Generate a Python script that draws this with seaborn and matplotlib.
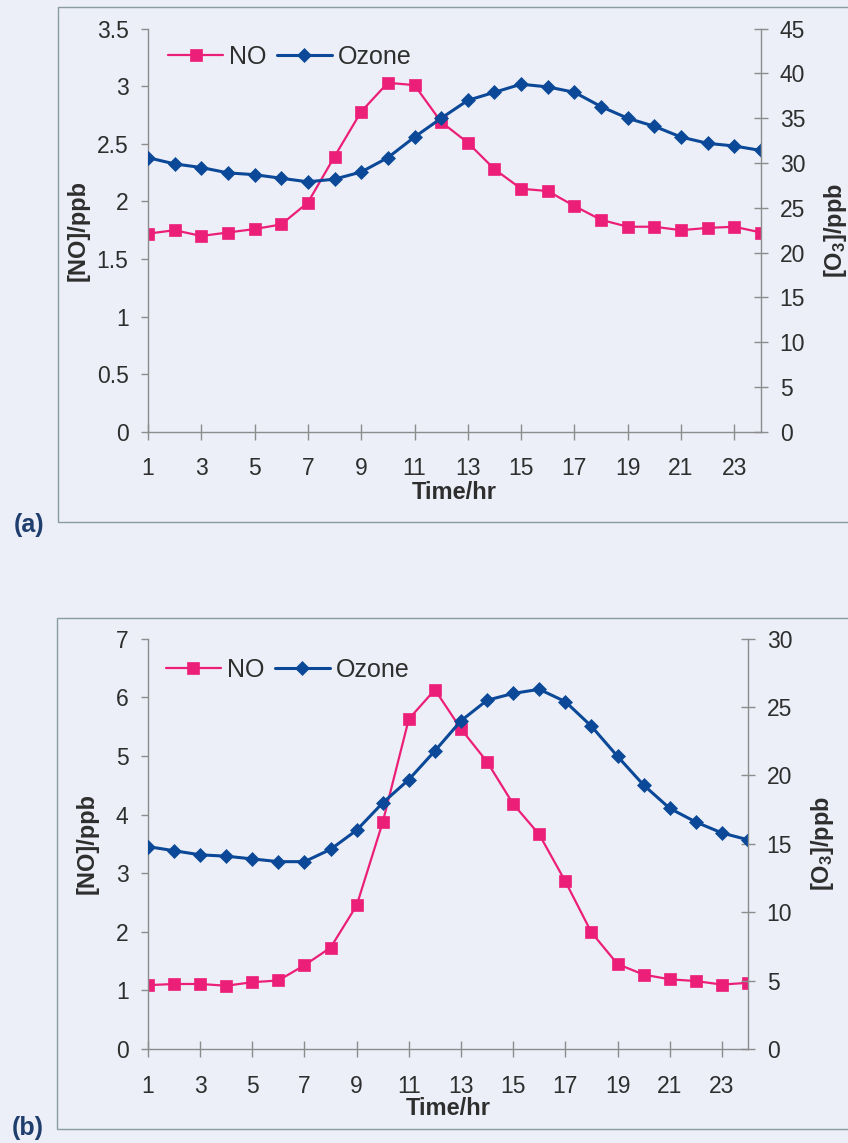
import matplotlib
matplotlib.use('Agg')
import matplotlib.pyplot as plt
from matplotlib.patches import Rectangle
from matplotlib.ticker import FuncFormatter
import numpy as np
import pandas as pd
import seaborn as sns

HOURS = list(range(1, 25))

# panel (a)
no_a = [1.72, 1.75, 1.70, 1.73, 1.76, 1.80, 1.99, 2.39, 2.78, 3.03, 3.01, 2.69,
        2.51, 2.28, 2.11, 2.09, 1.96, 1.84, 1.78, 1.78, 1.75, 1.77, 1.78, 1.73]
ozone_a = [30.6, 29.9, 29.5, 28.9, 28.7, 28.3, 27.9, 28.2, 29.0, 30.6, 32.9, 35.0,
           37.0, 37.9, 38.8, 38.5, 37.9, 36.3, 35.0, 34.1, 32.9, 32.2, 31.9, 31.4]

# panel (b)
no_b = [1.09, 1.11, 1.11, 1.08, 1.14, 1.17, 1.43, 1.73, 2.45, 3.87, 5.63, 6.13,
        5.46, 4.90, 4.18, 3.66, 2.86, 1.99, 1.45, 1.27, 1.19, 1.16, 1.10, 1.13]
ozone_b = [14.8, 14.5, 14.2, 14.1, 13.9, 13.7, 13.7, 14.6, 16.0, 18.0, 19.7, 21.8,
           24.0, 25.5, 26.0, 26.3, 25.4, 23.6, 21.4, 19.3, 17.6, 16.6, 15.8, 15.3]

XTICKS = list(range(1, 24, 2))

BG = '#ECEFF7'
PINK = '#EC1F78'
BLUE = '#0B4897'
SPINE = '#8C8C8C'
TEXT = '#2E2E2E'

sns.set_style('ticks')
plt.rcParams['font.family'] = ['Liberation Sans', 'DejaVu Sans']
plt.rcParams['mathtext.default'] = 'regular'
plt.rcParams['text.color'] = TEXT
plt.rcParams['axes.labelcolor'] = TEXT
plt.rcParams['xtick.color'] = SPINE
plt.rcParams['ytick.color'] = SPINE
plt.rcParams['xtick.labelcolor'] = TEXT
plt.rcParams['ytick.labelcolor'] = TEXT


def fmt(v, pos):
    return f'{v:g}'


def draw_panel(fig, rect, no, ozone, no_top, no_step, oz_top, oz_step,
               leg_xy, left_lab_x, right_lab_x, xlab_y):
    ax = fig.add_axes(rect)
    ax.set_facecolor(BG)
    ax2 = ax.twinx()

    df = pd.DataFrame({'hour': HOURS, 'NO': no, 'Ozone': ozone})
    sns.lineplot(data=df, x='hour', y='NO', ax=ax, color=PINK, lw=1.6,
                 marker='s', markersize=9, markeredgecolor=PINK,
                 markeredgewidth=0.5, label='NO', legend=False)
    sns.lineplot(data=df, x='hour', y='Ozone', ax=ax2, color=BLUE, lw=2.2,
                 marker='D', markersize=7, markeredgecolor=BLUE,
                 markeredgewidth=0.5, label='Ozone', legend=False)

    ax.set_xlim(1, 24)
    ax.set_ylim(0, no_top)
    ax2.set_ylim(0, oz_top)
    ax.set_xticks(XTICKS)
    ax.set_yticks(np.arange(0, no_top + no_step / 2, no_step))
    ax2.set_yticks(np.arange(0, oz_top + oz_step / 2, oz_step))
    ax.yaxis.set_major_formatter(FuncFormatter(fmt))
    ax2.yaxis.set_major_formatter(FuncFormatter(fmt))

    for a in (ax, ax2):
        a.spines['top'].set_visible(False)
        for s in a.spines.values():
            s.set_color(SPINE)
            s.set_linewidth(1.0)
    ax.spines['right'].set_visible(False)
    ax2.spines['left'].set_visible(False)
    ax2.spines['bottom'].set_visible(False)

    ax.tick_params(axis='x', direction='inout', length=11, width=1,
                   pad=13, labelsize=16.5)
    ax.tick_params(axis='y', direction='out', length=5, width=1,
                   pad=9, labelsize=16.5)
    ax2.tick_params(axis='y', direction='inout', length=10, width=1,
                    pad=8.5, labelsize=16.5)

    ax.set_xlabel('Time/hr', fontsize=17, fontweight='bold')
    ax.set_ylabel('[NO]/ppb', fontsize=17, fontweight='bold')
    ax2.set_ylabel('[O$_3$]/ppb', fontsize=17, fontweight='bold')
    ax.xaxis.set_label_coords(0.5, xlab_y)
    ax.yaxis.set_label_coords(left_lab_x, 0.5)
    ax2.yaxis.set_label_coords(right_lab_x, 0.5)

    h1, l1 = ax.get_legend_handles_labels()
    h2, l2 = ax2.get_legend_handles_labels()
    ax2.legend(h1 + h2, l1 + l2, loc='center left', bbox_to_anchor=leg_xy,
               frameon=False, ncol=2, fontsize=18, handlelength=2.2,
               handletextpad=0.25, columnspacing=0.4, borderpad=0,
               borderaxespad=0)
    return ax, ax2


fig = plt.figure(figsize=(8.48, 11.43), dpi=100, facecolor=BG)

# outer frames around each panel
fig.add_artist(Rectangle((0.0684, 0.5433), 1.0, 0.4506, transform=fig.transFigure,
                         fill=False, edgecolor='#8A9BA3', lw=1.0))
fig.add_artist(Rectangle((0.0672, 0.0123), 1.0, 0.4470, transform=fig.transFigure,
                         fill=False, edgecolor='#8A9BA3', lw=1.0))

draw_panel(fig, [0.1745, 0.6223, 0.7229, 0.3526], no_a, ozone_a,
           3.5, 0.5, 45, 5, (0.033, 0.93), -0.095, 1.10, -0.123)
draw_panel(fig, [0.1745, 0.0822, 0.7075, 0.3590], no_b, ozone_b,
           7, 1, 30, 5, (0.03, 0.924), -0.082, 1.102, -0.118)

fig.text(0.034, 0.5407, '(a)', fontsize=18, fontweight='bold', color='#1F3E6E',
         ha='center', va='center')
fig.text(0.033, 0.0131, '(b)', fontsize=18, fontweight='bold', color='#1F3E6E',
         ha='center', va='center')

fig.savefig('out.png', dpi=100, facecolor=BG)
